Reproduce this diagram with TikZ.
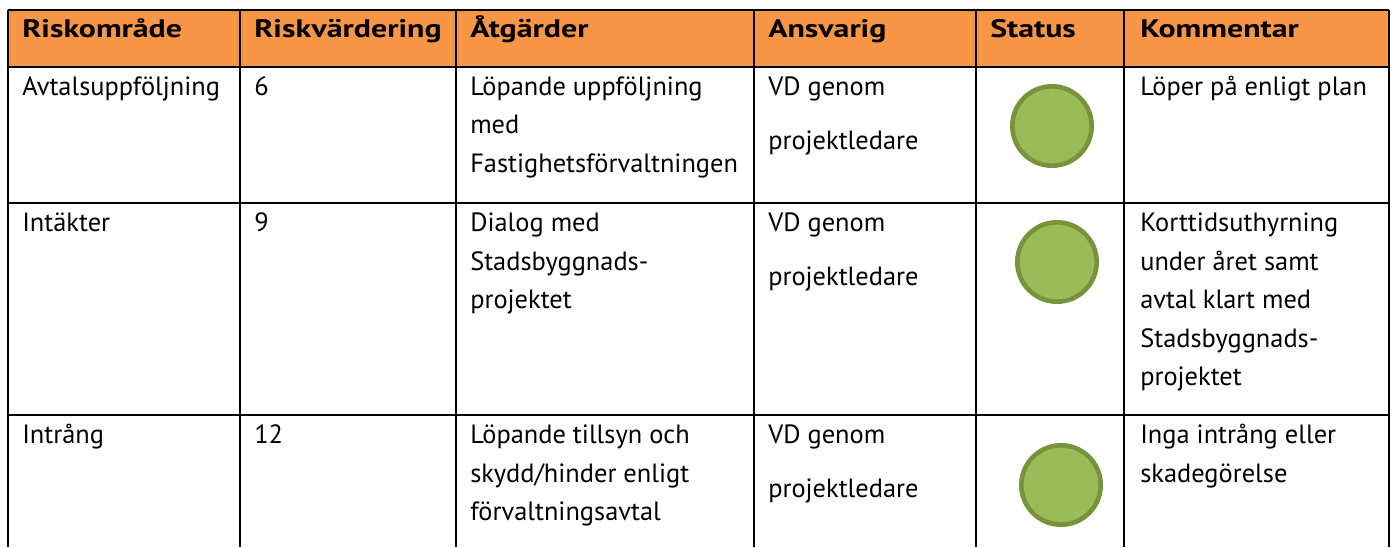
\documentclass[tikz,border=0pt]{standalone}
\usepackage{fontspec}
\setmainfont{PT Sans}
\newfontfamily\hdfont{PT Sans}[FakeStretch=1.26]
\definecolor{hdrfill}{HTML}{F79646}
\definecolor{dotfill}{HTML}{9BBB59}
\definecolor{dotring}{HTML}{77933C}
\begin{document}
\begin{tikzpicture}[x=0.75pt,y=-0.75pt,
  txt/.style={anchor=base west, inner sep=0pt, font=\fontsize{19.8pt}{19.8pt}\selectfont},
  hd/.style={anchor=base west, inner sep=0pt, font=\hdfont\fontsize{19pt}{19pt}\selectfont\bfseries},
  grid/.style={line width=1.5pt, black},
  dot/.style={circle, draw=dotring, fill=dotfill, line width=3.5pt, minimum size=59.5pt, inner sep=0pt}]
\useasboundingbox (0,0) rectangle (1395,547);
% header band
\fill[hdrfill] (8,10) rectangle (1389,66.5);
% grid lines
\draw[grid] (8,10) -- (1389,10);
\draw[grid] (8,66.5) -- (1389,66.5);
\draw[grid] (8,203) -- (1389,203);
\draw[grid] (8,415) -- (1389,415);
\foreach \x in {8,240,456,754,976,1124,1389} \draw[grid] (\x,10) -- (\x,547);
% header
\node[hd] (h1) at (22,37) {Riskområde};
\node[hd] (h2) at (254,37) {Riskvärdering};
\node[hd] (h3) at (470,37) {Åtgärder};
\node[hd] (h4) at (768,37) {Ansvarig};
\node[hd] (h5) at (990,37) {Status};
\node[hd] (h6) at (1140,37) {Kommentar};
% row 1
\node[txt] (r1a) at (22,95) {Avtalsuppföljning};
\node[txt] (r1b) at (254,95) {6};
\node[txt] (r1c1) at (470,95) {Löpande uppföljning};
\node[txt] (r1c2) at (470,133.5) {med};
\node[txt] (r1c3) at (470,172) {Fastighetsförvaltningen};
\node[txt] (r1d1) at (768,95) {VD genom};
\node[txt] (r1d2) at (768,149) {projektledare};
\node[dot] (s1) at (1052,126) {};
\node[txt] (r1f1) at (1140,95) {Löper på enligt plan};
% row 2
\node[txt] (r2a) at (22,231.5) {Intäkter};
\node[txt] (r2b) at (254,231.5) {9};
\node[txt] (r2c1) at (470,231.5) {Dialog med};
\node[txt] (r2c2) at (470,270) {Stadsbyggnads-};
\node[txt] (r2c3) at (470,308.5) {projektet};
\node[txt] (r2d1) at (768,231.5) {VD genom};
\node[txt] (r2d2) at (768,285.5) {projektledare};
\node[dot] (s2) at (1057,262) {};
\node[txt] (r2f1) at (1140,231.5) {Korttidsuthyrning};
\node[txt] (r2f2) at (1140,270) {under året samt};
\node[txt] (r2f3) at (1140,308.5) {avtal klart med};
\node[txt] (r2f4) at (1140,347) {Stadsbyggnads-};
\node[txt] (r2f5) at (1140,385.5) {projektet};
% row 3
\node[txt] (r3a) at (22,443.5) {Intrång};
\node[txt] (r3b) at (254,443.5) {12};
\node[txt] (r3c1) at (470,443.5) {Löpande tillsyn och};
\node[txt] (r3c2) at (470,482) {skydd/hinder enligt};
\node[txt] (r3c3) at (470,520.5) {förvaltningsavtal};
\node[txt] (r3d1) at (768,443.5) {VD genom};
\node[txt] (r3d2) at (768,497.5) {projektledare};
\node[dot] (s3) at (1061,485) {};
\node[txt] (r3f1) at (1140,443.5) {Inga intrång eller};
\node[txt] (r3f2) at (1140,482) {skadegörelse};
\end{tikzpicture}
\end{document}
